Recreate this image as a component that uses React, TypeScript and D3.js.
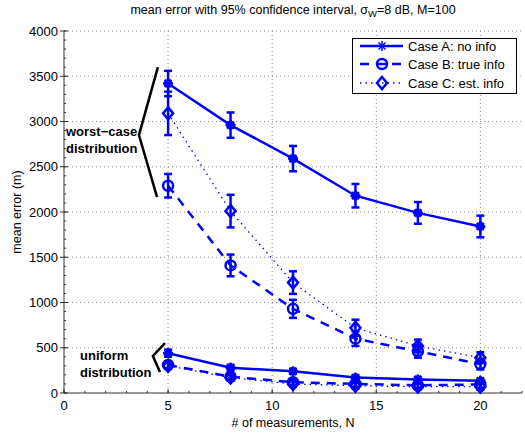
import React from "react";
import * as d3 from "d3";

const N = [5, 8, 11, 14, 17, 20];
const worstA = [3420, 2960, 2590, 2180, 1990, 1840];
const worstAErr = [140, 140, 140, 130, 120, 120];
const worstB = [2290, 1410, 930, 600, 460, 320];
const worstBErr = [130, 120, 100, 80, 70, 60];
const worstC = [3090, 2010, 1220, 720, 520, 390];
const worstCErr = [240, 180, 125, 90, 70, 60];
const uniA = [440, 280, 240, 170, 150, 135];
const uniAErr = [40, 30, 25, 20, 20, 20];
const uniB = [310, 180, 120, 100, 85, 95];
const uniBErr = [35, 30, 30, 30, 30, 35];
const uniC = [300, 170, 100, 80, 70, 70];
const uniCErr = [35, 30, 30, 30, 30, 35];

const xTicks = [0, 5, 10, 15, 20];
const yTicks = [0, 500, 1000, 1500, 2000, 2500, 3000, 3500, 4000];
const legendLabels = ["Case A: no info", "Case B: true info", "Case C: est. info"];

// annotation brackets in data coordinates
const worstBracket: [number, number][] = [[4.51, 3600], [3.6, 2850], [4.47, 2165]];
const uniBracket: [number, number][] = [[4.85, 552], [4.27, 409], [4.61, 232]];

const W = 525, H = 436;
const left = 64, right = 522, top = 31, bottom = 393;
const blue = "#0000ff";
const font = "'Liberation Sans', Arial, Helvetica, sans-serif";

const x = d3.scaleLinear().domain([0, 22]).range([left, right]);
const y = d3.scaleLinear().domain([0, 4000]).range([bottom, top]);
const line = d3.line<[number, number]>().x(d => x(d[0])).y(d => y(d[1]));

type Kind = "A" | "B" | "C";

function Marker({ kind, cx, cy }: { kind: Kind; cx: number; cy: number }) {
  const r = 5;
  if (kind === "A") {
    return (
      <g stroke={blue} strokeWidth={2.5} fill={blue}>
        <circle cx={cx} cy={cy} r={3} />
        <line x1={cx - r} y1={cy} x2={cx + r} y2={cy} />
        <line x1={cx} y1={cy - r} x2={cx} y2={cy + r} />
        <line x1={cx - 3.5} y1={cy - 3.5} x2={cx + 3.5} y2={cy + 3.5} />
        <line x1={cx - 3.5} y1={cy + 3.5} x2={cx + 3.5} y2={cy - 3.5} />
      </g>
    );
  }
  if (kind === "B") {
    return <circle cx={cx} cy={cy} r={r} fill="none" stroke={blue} strokeWidth={2.5} />;
  }
  return (
    <path
      d={`M${cx},${cy - 6}L${cx + 5},${cy}L${cx},${cy + 6}L${cx - 5},${cy}Z`}
      fill="none"
      stroke={blue}
      strokeWidth={2.5}
    />
  );
}

function Series({ vals, errs, kind }: { vals: number[]; errs: number[]; kind: Kind }) {
  const pts: [number, number][] = N.map((n, i) => [n, vals[i]]);
  const dash = kind === "A" ? undefined : kind === "B" ? "9,7" : "1.5,4";
  const sw = kind === "C" ? 1.3 : 2.5;
  return (
    <g>
      <path d={line(pts) || ""} fill="none" stroke={blue} strokeWidth={sw} strokeDasharray={dash} />
      {pts.map((p, i) => {
        const cx = x(p[0]);
        const y1 = y(p[1] + errs[i]);
        const y2 = y(p[1] - errs[i]);
        return (
          <g key={i}>
            <g stroke={blue} strokeWidth={2.5}>
              <line x1={cx} x2={cx} y1={y1} y2={y2} />
              <line x1={cx - 4} x2={cx + 4} y1={y1} y2={y1} />
              <line x1={cx - 4} x2={cx + 4} y1={y2} y2={y2} />
            </g>
            <Marker kind={kind} cx={cx} cy={y(p[1])} />
          </g>
        );
      })}
    </g>
  );
}

export default function App() {
  const xMinor = d3.range(0, 23, 1);
  const yMinor = d3.range(0, 4001, 100);
  const legendY = [46, 64, 83];
  const kinds: Kind[] = ["A", "B", "C"];
  return (
    <svg width={W} height={H} style={{ position: "absolute", left: 0, top: 0, background: "#fff" }} fontFamily={font}>
      <rect width={W} height={H} fill="#fff" />
      {/* grid */}
      <g stroke="#888" strokeWidth={1} strokeDasharray="1,3">
        {xTicks.filter(t => t > 0).map(t => (
          <line key={"gx" + t} x1={x(t)} x2={x(t)} y1={top} y2={bottom} />
        ))}
        {yTicks.filter(t => t > 0).map(t => (
          <line key={"gy" + t} x1={left} x2={right} y1={y(t)} y2={y(t)} />
        ))}
      </g>
      {/* axes */}
      <g stroke="#333" strokeWidth={1}>
        <line x1={left} x2={left} y1={top} y2={bottom} />
        <line x1={left} x2={right} y1={bottom} y2={bottom} />
        {xMinor.map(t => (
          <line key={"mx" + t} x1={x(t)} x2={x(t)} y1={bottom} y2={bottom - 2} />
        ))}
        {yMinor.map(t => (
          <line key={"my" + t} x1={left} x2={left + 2} y1={y(t)} y2={y(t)} />
        ))}
        {xTicks.map(t => (
          <line key={"tx" + t} x1={x(t)} x2={x(t)} y1={bottom} y2={bottom - 4} />
        ))}
        {yTicks.map(t => (
          <line key={"ty" + t} x1={left - 4} x2={left + 4} y1={y(t)} y2={y(t)} />
        ))}
      </g>
      {/* tick labels */}
      <g fontSize={13} fill="#000">
        {xTicks.map(t => (
          <text key={"lx" + t} x={x(t)} y={bottom + 17} textAnchor="middle">{t}</text>
        ))}
        {yTicks.map(t => (
          <text key={"ly" + t} x={left - 6} y={y(t) + 4.5} textAnchor="end">{t}</text>
        ))}
      </g>
      {/* titles */}
      <text x={(left + right) / 2} y={14} textAnchor="middle" fontSize={12.5}>
        mean error with 95% confidence interval, σ<tspan fontSize={9.5} dy={3}>W</tspan>
        <tspan dy={-3}>=8 dB, M=100</tspan>
      </text>
      <text x={(left + right) / 2} y={427} textAnchor="middle" fontSize={12.5}># of measurements, N</text>
      <text transform={`translate(21,${(top + bottom) / 2}) rotate(-90)`} textAnchor="middle" fontSize={12.5}>
        mean error (m)
      </text>
      {/* series */}
      <Series vals={uniC} errs={uniCErr} kind="C" />
      <Series vals={uniB} errs={uniBErr} kind="B" />
      <Series vals={uniA} errs={uniAErr} kind="A" />
      <Series vals={worstC} errs={worstCErr} kind="C" />
      <Series vals={worstB} errs={worstBErr} kind="B" />
      <Series vals={worstA} errs={worstAErr} kind="A" />
      {/* annotations */}
      <path d={line(worstBracket) || ""} fill="none" stroke="#000" strokeWidth={2.5} />
      <path d={line(uniBracket) || ""} fill="none" stroke="#000" strokeWidth={2.5} />
      <g fontSize={13} fontWeight="bold" fill="#000">
        <text x={66} y={136}>worst−case</text>
        <text x={66} y={153}>distribution</text>
        <text x={80} y={360}>uniform</text>
        <text x={80} y={377}>distribution</text>
      </g>
      {/* legend */}
      <rect x={352.5} y={38.5} width={164} height={55} fill="#fff" stroke="#000" strokeWidth={1} />
      {kinds.map((k, i) => (
        <g key={k}>
          <line
            x1={360}
            x2={403}
            y1={legendY[i]}
            y2={legendY[i]}
            stroke={blue}
            strokeWidth={k === "C" ? 1.3 : 2.5}
            strokeDasharray={k === "A" ? undefined : k === "B" ? "9,7" : "1.5,4"}
          />
          {k === "A" ? (
            <g stroke={blue} strokeWidth={1.5}>
              <line x1={377} x2={387} y1={legendY[i]} y2={legendY[i]} />
              <line x1={382} x2={382} y1={legendY[i] - 5} y2={legendY[i] + 5} />
              <line x1={378.5} x2={385.5} y1={legendY[i] - 3.5} y2={legendY[i] + 3.5} />
              <line x1={378.5} x2={385.5} y1={legendY[i] + 3.5} y2={legendY[i] - 3.5} />
            </g>
          ) : (
            <Marker kind={k} cx={382} cy={legendY[i]} />
          )}
          {k === "B" && <line x1={377} x2={387} y1={legendY[i]} y2={legendY[i]} stroke={blue} strokeWidth={2} />}
          <text x={408} y={legendY[i] + 4.5} fontSize={13}>{legendLabels[i]}</text>
        </g>
      ))}
    </svg>
  );
}
